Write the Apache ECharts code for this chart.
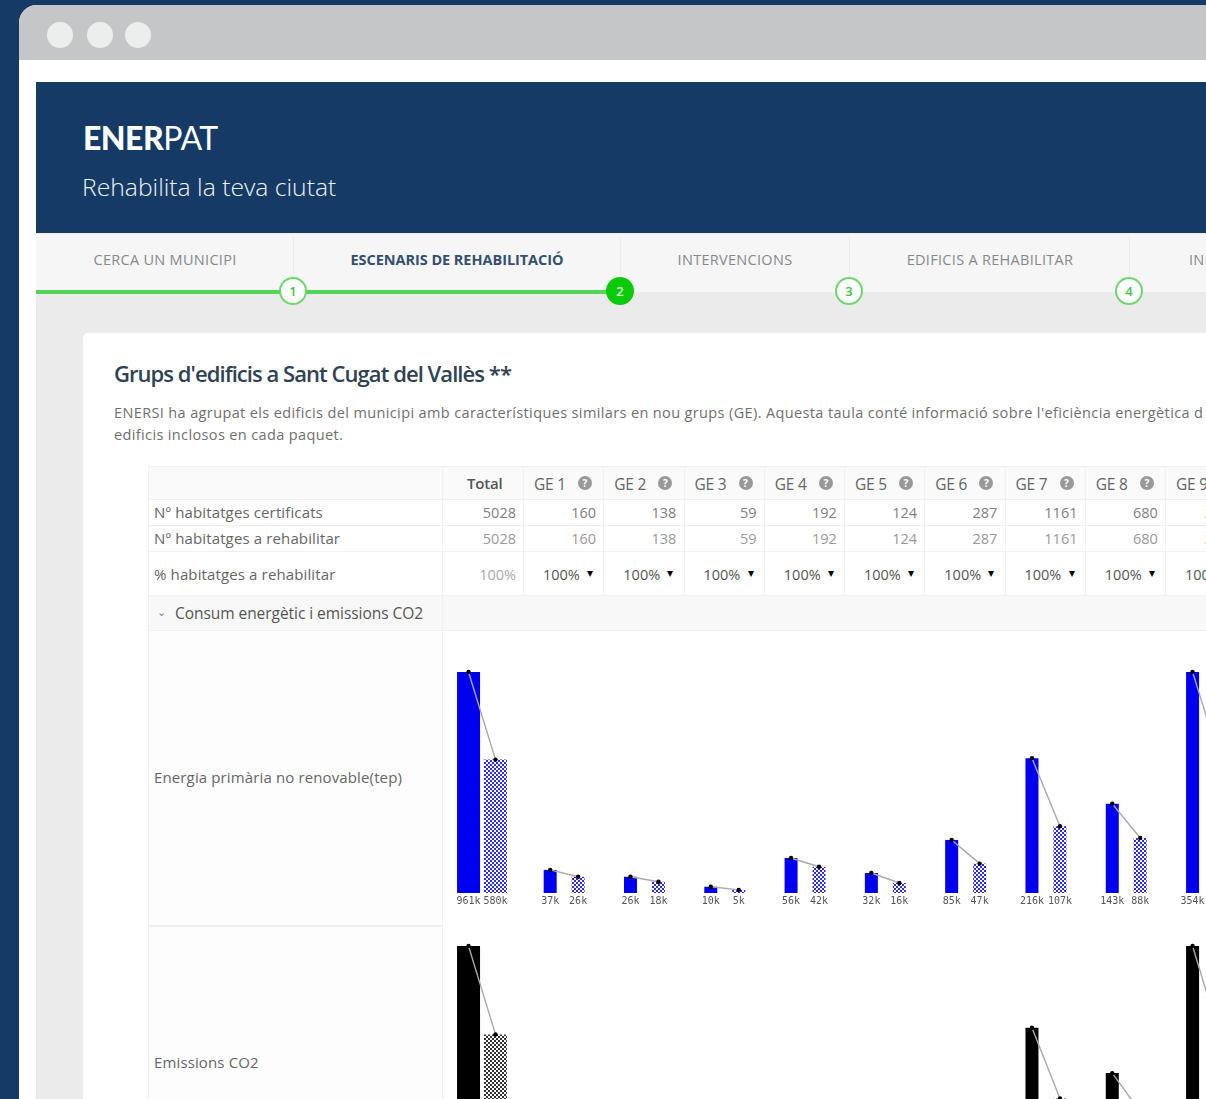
<!DOCTYPE html>
<html>
<head>
<meta charset="utf-8">
<title>ENERPAT</title>
<script src="https://cdn.jsdelivr.net/npm/echarts@6/dist/echarts.min.js"></script>
<style>
html, body { margin: 0; padding: 0; width: 1206px; height: 1099px; overflow: hidden; background: #153a66; }
#page { position: absolute; left: 0; top: 0; width: 1206px; height: 1099px; overflow: hidden; font-family: "Open Sans", sans-serif; filter: blur(0.65px); }
#page div { position: absolute; white-space: nowrap; box-sizing: border-box; }
#chart { left: 442px; top: 630px; width: 900px; height: 600px; }
.cell-r { text-align: right; color: #808080; font-size: 14.5px; }
.head { color: #5c5c5c; font-size: 15.5px; font-weight: 600; letter-spacing: -0.2px; }
.lbl { color: #666; font-size: 15px; letter-spacing: 0.13px; }
.step { width: 28px; height: 28px; border-radius: 50%; background: #fff; border: 2px solid #6ad86a; color: #3fc43f; font-size: 13px; font-weight: 600; text-align: center; line-height: 24px; }
.tab { color: #85898e; font-size: 14.5px; letter-spacing: 0.3px; transform: translateX(-50%); }
.qm { width: 14px; height: 14px; border-radius: 50%; background: #999; color: #fff; font-size: 10px; line-height: 14px; text-align: center; font-weight: 700; }
</style>
</head>
<body>
<div id="page"></div>
<script>
// table data
const tabNames = ["CERCA UN MUNICIPI", "ESCENARIS DE REHABILITACIÓ", "INTERVENCIONS", "EDIFICIS A REHABILITAR", "INFORMES"];
const groupNames = ["GE 1", "GE 2", "GE 3", "GE 4", "GE 5", "GE 6", "GE 7", "GE 8", "GE 9"];
const certified = [160, 138, 59, 192, 124, 287, 1161, 680, 2227];
const toRehab = [160, 138, 59, 192, 124, 287, 1161, 680, 2227];
const totalCertified = 5028;
const totalToRehab = 5028;

// chart data, k tep, first bar = actual, second = after rehabilitation
const energyTotal = [961, 580];
const energyBefore = [37, 26, 10, 56, 32, 85, 216, 143, 354];
const energyAfter = [26, 18, 5, 42, 16, 47, 107, 88, 210];
// CO2 labels are cut off in the picture: heights read as % of the tallest bar
const co2Total = [100, 60];
const co2Before = [10, 7, 3, 16, 9, 24, 63, 42.5, 100];
const co2After = [7, 5, 1.5, 12, 5, 13, 31, 25, 58];

const page = document.getElementById("page");

function box(x, y, w, h, bg, extra) {
    let d = document.createElement("div");
    d.style.cssText = `left:${x}px;top:${y}px;width:${w}px;height:${h}px;background:${bg};${extra || ""}`;
    page.appendChild(d);
    return d;
}

function text(x, y, str, cls, extra) {
    let d = document.createElement("div");
    d.className = cls || "";
    d.style.cssText = `left:${x}px;top:${y}px;${extra || ""}`;
    d.textContent = str;
    page.appendChild(d);
    return d;
}

// window frame
box(19, 5, 1300, 1200, "#fff", "border-radius:18px 0 0 0;");
box(19, 5, 1300, 55, "#c5c6c8", "border-radius:18px 0 0 0;");
[60, 100, 138].forEach(cx => box(cx - 13, 22, 26, 26, "#eceded", "border-radius:50%;"));

// header
box(36, 82, 1200, 151, "#153a66");
let logo = text(83, 117, "", "", "color:#fff;font-family:Lato,sans-serif;font-size:32px;line-height:42px;letter-spacing:-0.5px;");
logo.innerHTML = '<b style="font-weight:900">ENER</b>PAT';
text(82, 169, "Rehabilita la teva ciutat", "", "color:#eef2f6;font-size:24.7px;font-weight:300;line-height:36px;");

// steps bar, gray page background runs down behind the card
box(36, 233, 1200, 900, "#ebebeb");
box(36, 234, 1200, 58, "#f6f6f6");
[293, 620, 849, 1129].forEach(x => box(x, 236, 1, 42, "#ececec"));
box(36, 290, 584, 4, "#55d455");
let tabX = [165, 457, 735, 990, 1226];
tabNames.forEach((t, i) => text(tabX[i], 250, t, "tab", i == 1 ? "color:#34506e;font-weight:700;font-size:14.5px;letter-spacing:-0.05px" : ""));
[293, 620, 849, 1129].forEach((x, i) => {
    text(x - 14, 277, String(i + 1), "step", i == 1 ? "background:#0acb0a;border-color:#0acb0a;color:#dfffdf;" : "");
});

// card
box(83, 333, 1200, 800, "#fff", "border-radius:5px 0 0 0;");
text(114, 358, "Grups d'edificis a Sant Cugat del Vallès **", "", "color:#2f4254;font-size:22px;font-weight:600;letter-spacing:-0.95px;line-height:30px;");
text(114, 404, "ENERSI ha agrupat els edificis del municipi amb característiques similars en nou grups (GE). Aquesta taula conté informació sobre l'eficiència energètica d", "", "color:#6f6f6f;font-size:14.5px;line-height:18px;letter-spacing:0.37px;");
text(114, 426, "edificis inclosos en cada paquet.", "", "color:#6f6f6f;font-size:14.5px;line-height:18px;letter-spacing:0.37px;");

// table
const colX = [523, 603.3, 683.5, 763.8, 844, 924.3, 1004.5, 1084.8, 1165];
box(148, 466, 1100, 33, "#fafafa");
box(148, 595, 1100, 35, "#f8f8f8");
box(148, 630, 294, 500, "#fdfdfd");
[466, 499, 525, 551, 595, 630].forEach(y => box(148, y, 1100, 1, "#f0f0f0"));
box(148, 925, 294, 2, "#f0f0f0");
[148, 442].forEach(x => box(x, 466, 1, 700, "#f1f1f1"));
colX.forEach(x => box(x, 466, 1, 129, "#f1f1f1"));

text(467, 473, "Total", "head", "color:#555;font-size:15px;");
groupNames.forEach((g, i) => {
    let x = colX[i];
    text(x + 11, 473, g, "head", "font-weight:400;color:#666;");
    text(x + 55, 476, "?", "qm");
    text(x - 45, 503, String(certified[i]), "cell-r", "width:118px;");
    text(x - 45, 529, String(toRehab[i]), "cell-r", "width:118px;color:#999;");
    text(x + 20, 565, "100%", "", "color:#555;font-size:14.5px;");
    text(x + 64, 564, "▾", "", "color:#000;font-size:12px;");
});
text(398, 503, String(totalCertified), "cell-r", "width:118px;");
text(398, 529, String(totalToRehab), "cell-r", "width:118px;color:#999;");
text(398, 565, "100%", "cell-r", "width:118px;color:#aaa;");
text(154, 502, "Nº habitatges certificats", "lbl");
text(154, 528, "Nº habitatges a rehabilitar", "lbl");
text(154, 564, "% habitatges a rehabilitar", "lbl");
text(157, 604, "⌄", "", "color:#888;font-size:11px;");
text(175, 602, "Consum energètic i emissions CO2", "", "color:#555;font-size:15.5px;letter-spacing:-0.05px;");
text(154, 767, "Energia primària no renovable(tep)", "lbl");
text(154, 1052, "Emissions CO2", "lbl");

// chart
let holder = document.createElement("div");
holder.id = "chart";
page.appendChild(holder);

function makePattern(color) {
    let c = document.createElement("canvas");
    c.width = 4; c.height = 4;
    let g = c.getContext("2d");
    g.fillStyle = color;
    g.fillRect(0, 0, 4, 4);
    g.fillStyle = "#fff";
    g.fillRect(0, 0, 2, 2);
    g.fillRect(2, 2, 2, 2);
    return c;
}

// gray connector and black dots on the tops of a bar pair
function connector(axisIndex, halfStep, data) {
    return {
        type: "custom",
        xAxisIndex: axisIndex,
        yAxisIndex: axisIndex,
        z: 5,
        silent: true,
        clip: false,
        data: data,
        renderItem: function (params, api) {
            let a = api.coord([api.value(0), api.value(1)]);
            let b = api.coord([api.value(0), api.value(2)]);
            let x1 = a[0] - halfStep, x2 = b[0] + halfStep;
            return {
                type: "group",
                children: [
                    { type: "line", shape: { x1: x1, y1: a[1], x2: x2, y2: b[1] }, style: { stroke: "#aca8a4", lineWidth: 1.4 } },
                    { type: "circle", shape: { cx: x1, cy: a[1], r: 2.2 }, style: { fill: "#000" } },
                    { type: "circle", shape: { cx: x2, cy: b[1], r: 2.2 }, style: { fill: "#000" } }
                ]
            };
        }
    };
}

function barPair(axisIndex, width, gap, color, lightColor, before, after, showLabel) {
    let label = {
        show: showLabel,
        position: "bottom",
        distance: 3,
        fontFamily: "DejaVu Sans Mono",
        fontSize: 10,
        color: "#555",
        formatter: p => p.value + "k"
    };
    return [
        { type: "bar", xAxisIndex: axisIndex, yAxisIndex: axisIndex, barWidth: width, barGap: gap, data: before, label: label, itemStyle: { color: color } },
        { type: "bar", xAxisIndex: axisIndex, yAxisIndex: axisIndex, barWidth: width, barGap: gap, data: after, label: label, itemStyle: { color: { image: makePattern(lightColor), repeat: "repeat" } } }
    ];
}

const rowTops = [42, 316];
const plotH = 221;
let grids = [], xAxes = [], yAxes = [], series = [];

function addPanel(top, left, width, cats, yMax) {
    grids.push({ left: left, top: top, width: width, height: plotH });
    xAxes.push({ type: "category", gridIndex: grids.length - 1, data: cats, show: false });
    yAxes.push({ type: "value", gridIndex: grids.length - 1, min: 0, max: yMax, show: false });
    return grids.length - 1;
}

const geCats = groupNames.concat(["GE 10"]);

let i0 = addPanel(rowTops[0], 0, 80, ["Total"], energyTotal[0]);
series.push(...barPair(i0, 23, "17%", "#0000f0", "#2a2af0", [energyTotal[0]], [energyTotal[1]], true));
series.push(connector(i0, 13.5, [[0, energyTotal[0], energyTotal[1]]]));

let i1 = addPanel(rowTops[0], 82, 803, geCats, Math.max(...energyBefore));
series.push(...barPair(i1, 13, "115%", "#0000f0", "#2a2af0", energyBefore, energyAfter, true));
series.push(connector(i1, 14, energyBefore.map((v, i) => [i, v, energyAfter[i]])));

let i2 = addPanel(rowTops[1], 0, 80, ["Total"], co2Total[0]);
series.push(...barPair(i2, 23, "17%", "#000000", "#333333", [co2Total[0]], [co2Total[1]], false));
series.push(connector(i2, 13.5, [[0, co2Total[0], co2Total[1]]]));

let i3 = addPanel(rowTops[1], 82, 803, geCats, Math.max(...co2Before));
series.push(...barPair(i3, 13, "115%", "#000000", "#333333", co2Before, co2After, false));
series.push(connector(i3, 14, co2Before.map((v, i) => [i, v, co2After[i]])));

let chart = echarts.init(holder);
chart.setOption({
    animation: false,
    grid: grids,
    xAxis: xAxes,
    yAxis: yAxes,
    series: series
});
</script>
</body>
</html>
